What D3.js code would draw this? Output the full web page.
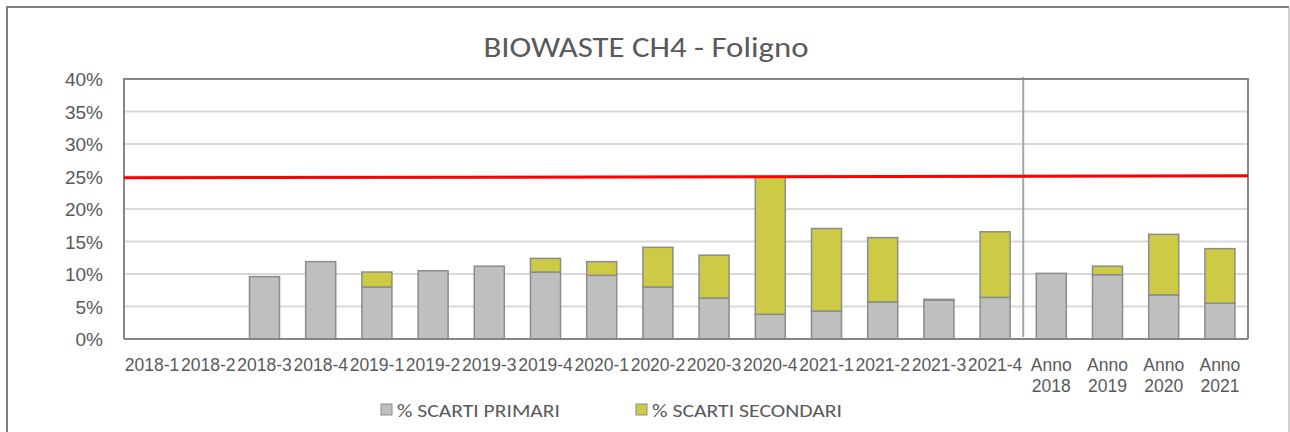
<!DOCTYPE html>
<html>
<head>
<meta charset="utf-8">
<script src="https://cdn.jsdelivr.net/npm/d3@7"></script>
<style>
  body { margin: 0; background: #fff; }
  svg { display: block; font-family: Carlito, Lato, sans-serif; }
  .tick text { fill: #595959; }
</style>
</head>
<body>
<svg id="chart" width="1290" height="432"></svg>
<script>
// categories (quarters, then yearly totals)
var categories = ["2018-1","2018-2","2018-3","2018-4","2019-1","2019-2","2019-3","2019-4",
  "2020-1","2020-2","2020-3","2020-4","2021-1","2021-2","2021-3","2021-4",
  "Anno 2018","Anno 2019","Anno 2020","Anno 2021"];
var primari =   [0, 0, 9.6, 11.9, 8.0, 10.5, 11.2, 10.3, 9.8, 8.0, 6.3, 3.8, 4.3, 5.7, 6.0, 6.4, 10.1, 9.9, 6.8, 5.5];
var secondari = [0, 0, 0,   0,    2.3, 0,    0,    2.1,  2.1, 6.1, 6.6, 21.1, 12.7, 9.9, 0.1, 10.1, 0, 1.3, 9.3, 8.4];
var seriesNames = ["% SCARTI PRIMARI", "% SCARTI SECONDARI"];
var yTicks = [0, 5, 10, 15, 20, 25, 30, 35, 40];
var limitLine = [24.8, 25.1]; // soglia, from left edge to right edge

var svg = d3.select("#chart");
var plotLeft = 124, plotRight = 1248, plotTop = 79, plotBottom = 339;

// outer chart border
svg.append("path").attr("d", "M7,432V7H1289").attr("fill", "none").attr("stroke", "#7f7f7f").attr("stroke-width", 2);
svg.append("line").attr("x1", 1289).attr("x2", 1289).attr("y1", 8).attr("y2", 432).attr("stroke", "#d0d0d0").attr("stroke-width", 2);

svg.append("text")
   .attr("x", 646).attr("y", 57)
   .attr("text-anchor", "middle")
   .attr("fill", "#595959")
   .attr("textLength", 325).attr("lengthAdjust", "spacingAndGlyphs")
   .style("font-size", "28px")
   .text("BIOWASTE CH4 - Foligno");

var x = d3.scaleBand().domain(categories).range([plotLeft, plotRight]).paddingInner(0.466).paddingOuter(0.233);
var y = d3.scaleLinear().domain([0, 40]).range([plotBottom, plotTop]);

// gridlines
svg.append("g").selectAll("line").data(yTicks.slice(1, -1)).join("line")
   .attr("x1", plotLeft).attr("x2", plotRight)
   .attr("y1", function(d) { return y(d); }).attr("y2", function(d) { return y(d); })
   .attr("stroke", "#d9d9d9").attr("stroke-width", 2);

// y axis labels
var yAxis = svg.append("g").attr("transform", "translate(" + plotLeft + ",0)")
   .call(d3.axisLeft(y).tickValues(yTicks).tickFormat(function(d) { return d + "%"; }).tickSize(0).tickPadding(21));
yAxis.select(".domain").remove();
yAxis.selectAll("text").style("font-size", "19px").attr("dy", "0.35em");

// stacked bars
var data = categories.map(function(c, i) { return { cat: c, p: primari[i], s: secondari[i] }; });
var bars = svg.append("g").selectAll("g").data(data).join("g");
bars.filter(function(d) { return d.p > 0; }).append("rect")
   .attr("x", function(d) { return x(d.cat); })
   .attr("width", x.bandwidth())
   .attr("y", function(d) { return y(d.p); })
   .attr("height", function(d) { return y(0) - y(d.p); })
   .attr("fill", "#bfbfbf").attr("stroke", "#8c8c8c").attr("stroke-width", 1.5);
bars.filter(function(d) { return d.s > 0; }).append("rect")
   .attr("x", function(d) { return x(d.cat); })
   .attr("width", x.bandwidth())
   .attr("y", function(d) { return y(d.p + d.s); })
   .attr("height", function(d) { return y(d.p) - y(d.p + d.s); })
   .attr("fill", "#cdcb46").attr("stroke", "#8c8c8c").attr("stroke-width", 1.5);

// separator between quarters and yearly values
var sepX = x("Anno 2018") - x.step() * x.paddingInner() / 2;
svg.append("line").attr("x1", sepX).attr("x2", sepX).attr("y1", plotTop - 2).attr("y2", plotBottom - 2)
   .attr("stroke", "#a6a6a6").attr("stroke-width", 2);

// plot area border + axis
svg.append("path").attr("d", "M" + plotLeft + "," + plotBottom + "V" + plotTop + "H" + plotRight + "V" + plotBottom)
   .attr("fill", "none").attr("stroke", "#868686").attr("stroke-width", 2);
svg.append("line").attr("x1", plotLeft).attr("x2", plotRight).attr("y1", plotBottom).attr("y2", plotBottom)
   .attr("stroke", "#868686").attr("stroke-width", 2);

// red limit line
svg.append("line")
   .attr("x1", plotLeft).attr("x2", plotRight)
   .attr("y1", y(limitLine[0])).attr("y2", y(limitLine[1]))
   .attr("stroke", "#ff0000").attr("stroke-width", 3);

// x axis labels
var xAxis = svg.append("g").attr("transform", "translate(0," + plotBottom + ")")
   .call(d3.axisBottom(x).tickSize(0).tickFormat(""));
xAxis.select(".domain").remove();
xAxis.selectAll(".tick").append("text")
   .attr("fill", "#595959")
   .attr("text-anchor", "middle")
   .style("font-size", "17.5px")
   .each(function(d) {
     var parts = d.indexOf("Anno") === 0 ? d.split(" ") : [d];
     var t = d3.select(this);
     parts.forEach(function(p, i) {
       t.append("tspan").attr("x", 0).attr("y", 32 + i * 21).text(p);
     });
   });

// legend
var legend = svg.append("g").attr("transform", "translate(381,404)");
var colors = ["#bfbfbf", "#cdcb46"];
var offsets = [0, 255];
var textWidths = [163, 190];
seriesNames.forEach(function(n, i) {
  legend.append("rect").attr("x", offsets[i]).attr("y", 0).attr("width", 11).attr("height", 11)
     .attr("fill", colors[i]).attr("stroke", "#8c8c8c").attr("stroke-width", 1);
  legend.append("text").attr("x", offsets[i] + 16).attr("y", 13)
     .attr("textLength", textWidths[i]).attr("lengthAdjust", "spacingAndGlyphs")
     .attr("fill", "#595959").style("font-size", "19px").text(n);
});
</script>
</body>
</html>
